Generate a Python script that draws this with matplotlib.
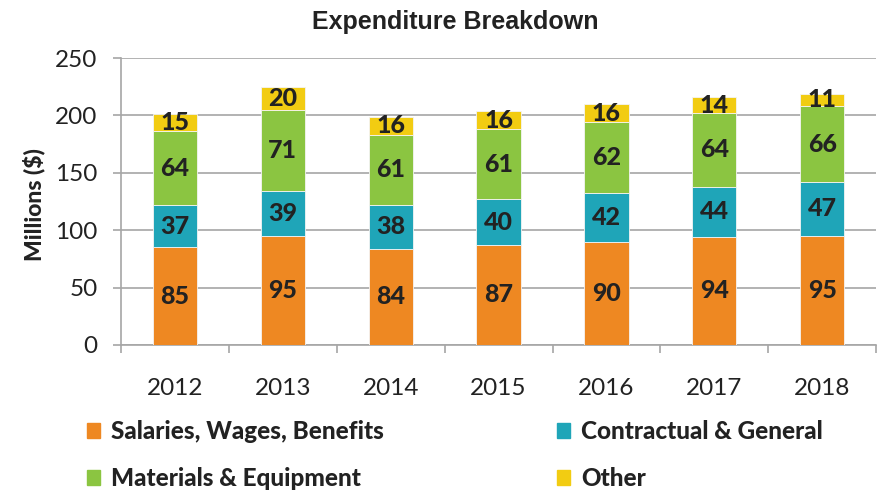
import numpy as np
import matplotlib.pyplot as plt
from matplotlib.patches import Patch

# values (millions $)
years = ["2012", "2013", "2014", "2015", "2016", "2017", "2018"]
salaries = [85, 95, 84, 87, 90, 94, 95]
contractual = [37, 39, 38, 40, 42, 44, 47]
materials = [64, 71, 61, 61, 62, 64, 66]
other = [15, 20, 16, 16, 16, 14, 11]

series = [
    ("Salaries, Wages, Benefits", salaries, "#EE8822"),
    ("Contractual & General", contractual, "#1FA5B8"),
    ("Materials & Equipment", materials, "#8BC541"),
    ("Other", other, "#F2CC12"),
]

fig = plt.figure(figsize=(8.77, 4.92), dpi=100)
ax = fig.add_axes([0.138, 0.299, 0.861, 0.583])

x = np.arange(len(years))
bottom = np.zeros(len(years))
for name, vals, col in series:
    vals = np.array(vals)
    ax.bar(x, vals, 0.41, bottom=bottom, color=col, edgecolor="#f4f4f4",
           linewidth=0.6, zorder=3, label=name)
    for xi, b, v in zip(x, bottom, vals):
        ax.text(xi, b + v / 2, str(v), ha="center", va="center",
                fontsize=18, fontweight=900, family="Lato",
                color="#222222", zorder=4)
    bottom += vals

ax.set_xlim(-0.5, len(years) - 0.5)
ax.set_ylim(0, 250)
ax.set_yticks(range(0, 251, 50))
ax.set_xticks(x)
ax.set_xticklabels(years, family="Lato", fontsize=17.5, color="#222222")
ax.tick_params(axis="x", length=0, pad=24)
ax.set_xticks(np.arange(-0.5, len(years)), minor=True)
ax.tick_params(axis="x", which="minor", length=6, color="#A6A6A6", width=1.2)
ax.tick_params(axis="y", length=6, color="#A6A6A6", width=1.2, pad=11,
               labelsize=17.5, labelcolor="#222222")
for lab in ax.get_yticklabels():
    lab.set_family("Lato")
ax.grid(axis="y", color="#A6A6A6", linewidth=1.2, zorder=0)

for s in ["top", "right"]:
    ax.spines[s].set_visible(False)
ax.spines["left"].set_color("#A6A6A6")
ax.spines["bottom"].set_color("#A6A6A6")
ax.spines["left"].set_linewidth(1.2)
ax.spines["bottom"].set_linewidth(1.2)

ax.set_ylabel("Millions ($)", fontsize=16.5, fontweight=900, family="Lato",
              color="#222222")
ax.yaxis.set_label_coords(-0.1, 0.49)
fig.text(0.519, 0.955, "Expenditure Breakdown", ha="center", va="center",
         fontsize=18, fontweight="bold", family="Liberation Sans",
         color="#222222")

# legend fills column-wise, so order handles to get rows
order = [0, 2, 1, 3]
handles = [Patch(color=series[i][2], label=series[i][0]) for i in order]
leg = fig.legend(handles=handles, ncol=2, loc="upper left",
                 bbox_to_anchor=(0.0992, 0.146), frameon=False,
                 prop={"family": "Lato", "weight": 900, "size": 17.5},
                 handlelength=0.55, handleheight=0.55, handletextpad=0.45,
                 columnspacing=7.1, labelspacing=0.98, borderaxespad=0,
                 borderpad=0)
for t in leg.get_texts():
    t.set_color("#222222")

fig.savefig("out.png", dpi=100)
